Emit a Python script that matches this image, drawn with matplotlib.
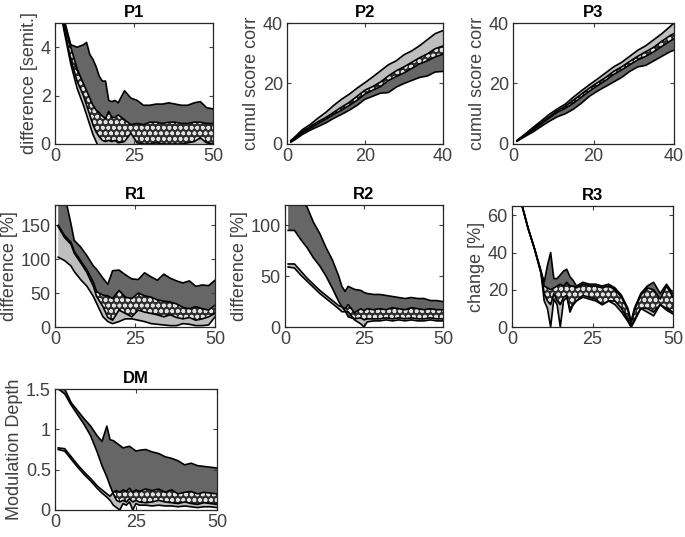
import numpy as np
import matplotlib
matplotlib.use('Agg')
import matplotlib.pyplot as plt

plt.rcParams['font.family'] = ['Liberation Sans', 'DejaVu Sans']
plt.rcParams['hatch.linewidth'] = 1.1

# ---- P1 ----
x_p1 = [1, 3, 5, 7, 9, 10, 11, 12, 13, 14, 15, 16, 17, 18, 19, 20, 22, 24, 26, 28, 30, 32, 34, 36, 38, 40, 42, 44, 46, 48, 50]
p1_dark_hi = [6.0, 5.1, 4.1, 4.0, 4.1, 4.2, 3.7, 3.5, 3.2, 2.8, 2.6, 2.6, 1.8, 1.75, 1.8, 1.7, 2.2, 1.9, 1.8, 1.6, 1.6, 1.65, 1.65, 1.7, 1.65, 1.6, 1.6, 1.7, 1.75, 1.5, 1.45]
p1_light_hi = [6.0, 4.9, 4.0, 3.1, 2.5, 2.2, 1.9, 1.6, 1.4, 1.3, 1.15, 1.05, 1.35, 1.1, 1.1, 1.2, 1.0, 0.8, 0.85, 0.8, 0.9, 0.9, 0.85, 0.9, 0.9, 0.85, 0.85, 0.9, 0.9, 0.85, 0.85]
p1_dark_lo = [6.0, 4.7, 3.5, 2.6, 2.0, 1.6, 1.2, 0.8, 0.5, 0.3, 0.15, 0.1, 0.15, 0.1, 0.15, 0.05, 0.1, 0.45, 0.05, 0.0, 0.0, 0.05, 0.0, 0.0, 0.0, 0.0, 0.05, 0.1, 0.25, 0.05, 0.0]
p1_light_lo = [6.0, 4.6, 3.3, 2.3, 1.6, 1.2, 0.8, 0.4, 0.1, -0.2, -0.3, -0.3, -0.3, -0.3, -0.3, -0.3, -0.3, -0.3, -0.3, -0.3, -0.3, -0.3, -0.3, -0.3, -0.3, -0.3, -0.3, -0.3, -0.3, -0.3, -0.3]

# ---- P2 ----
x_p2 = [1, 2, 4, 6, 8, 10, 12, 14, 16, 18, 20, 22, 24, 26, 28, 30, 32, 34, 36, 38, 40]
p2_light_hi = [1.2, 2.3, 4.8, 6.5, 8.6, 10.5, 12.8, 14.8, 16.5, 18.5, 20.3, 22.2, 24.2, 26.2, 27.5, 29.5, 30.8, 32.5, 34.5, 36.5, 37.5]
p2_dark_hi = [1.0, 2.0, 4.2, 5.8, 7.4, 8.8, 10.5, 12.2, 13.8, 15.8, 17.8, 19.0, 20.5, 22.5, 24.2, 25.5, 27.0, 28.5, 29.8, 31.5, 32.4]
p2_light_lo = [0.8, 1.7, 3.7, 5.2, 6.8, 8.2, 9.8, 11.2, 12.8, 14.5, 16.5, 17.8, 19.0, 21.0, 22.3, 23.5, 25.0, 26.5, 27.5, 28.8, 29.7]
p2_dark_lo = [0.6, 1.4, 3.2, 4.6, 5.8, 7.0, 8.5, 9.8, 11.2, 12.8, 14.8, 15.8, 16.8, 17.0, 18.8, 20.0, 21.0, 22.0, 22.5, 23.8, 24.0]

# ---- P3 ----
x_p3 = [1, 3, 5, 7, 9, 11, 13, 15, 17, 19, 21, 23, 25, 27, 29, 31, 33, 35, 37, 39, 40]
p3_light_hi = [1.2, 3.3, 5.5, 7.6, 9.8, 11.6, 13.2, 15.5, 17.6, 19.6, 21.5, 23.5, 25.5, 27.0, 29.0, 31.0, 32.5, 34.5, 36.5, 38.8, 40.0]
p3_dark_hi = [1.1, 3.0, 5.0, 7.0, 9.0, 11.0, 12.5, 14.5, 16.5, 18.5, 20.3, 22.0, 24.0, 25.5, 27.3, 29.0, 30.5, 32.0, 34.0, 35.8, 36.5]
p3_light_lo = [1.0, 2.8, 4.6, 6.6, 8.6, 10.5, 11.8, 13.5, 15.5, 17.5, 19.3, 21.0, 23.0, 24.5, 26.2, 27.8, 29.0, 30.5, 32.3, 34.0, 34.8]
p3_dark_lo = [0.9, 2.5, 4.0, 5.8, 7.5, 9.0, 10.0, 11.5, 13.5, 15.8, 17.5, 19.0, 20.5, 22.0, 24.0, 25.5, 26.0, 27.5, 29.0, 30.5, 31.0]

# ---- R1 ----
x_r1 = [1, 3, 5, 6, 8, 10, 12, 13, 15, 16.5, 18, 20, 22, 24, 26, 28, 30, 32, 34, 36, 38, 40, 42, 44, 46, 48, 50]
r1_dark_hi = [200, 195, 152, 128, 118, 105, 90, 85, 72, 63, 83, 84, 77, 71, 70, 80, 74, 69, 78, 72, 68, 65, 68, 60, 62, 61, 69]
r1_light_hi = [150, 135, 125, 112, 98, 84, 66, 52, 47, 46, 42, 54, 44, 42, 50, 46, 44, 40, 38, 37, 34, 29, 27, 30, 27, 25, 32]
r1_dark_lo = [148, 132, 122, 109, 95, 80, 60, 45, 30, 14, 10, 25, 20, 15, 25, 22, 20, 18, 15, 18, 14, 12, 14, 10, 12, 15, 20]
r1_light_lo = [103, 98, 90, 82, 70, 60, 45, 35, 15, 8, 5, 8, 12, 12, 10, 8, 5, 4, 3, 2, 2, 5, 4, 2, 2, 3, 15]

# ---- R2 ----
x_r2 = [1, 3, 5, 7, 9, 11, 13, 15, 17, 18, 19, 20, 22, 24, 25, 26, 28, 30, 32, 34, 36, 38, 40, 42, 44, 46, 48, 50]
r2_dark_hi = [135, 130, 126, 118, 103, 92, 78, 66, 50, 40, 35, 40, 37, 36, 34, 33, 32, 32, 31, 30, 29, 28, 29, 28, 28, 26, 26, 25]
r2_dark_lo = [95, 95, 86, 78, 68, 60, 50, 38, 25, 20, 16, 10, 8, 9, 7, 8, 8, 8, 9, 8, 9, 8, 9, 8, 8, 9, 8, 8]
r2_light_hi = [62, 62, 55, 48, 42, 36, 31, 26, 21, 20, 18, 22, 14, 18, 16, 18, 17, 18, 17, 19, 18, 17, 19, 18, 17, 18, 17, 17]
r2_light_lo = [59, 58, 51, 45, 39, 33, 28, 23, 18, 15, 15, 15, 7, 3, 0, 5, 6, 6, 7, 6, 7, 6, 7, 6, 6, 7, 6, 6]

# ---- R3 ----
x_r3 = [1, 3, 5, 7, 9, 10, 11, 12, 13, 14, 15, 16, 17, 18, 19, 20, 22, 24, 26, 28, 30, 32, 34, 36, 37, 38, 40, 42, 44, 46, 48, 50]
r3_dark_hi = [80, 66, 53, 42, 30, 24, 33, 40, 26, 26, 28, 30, 31, 27, 25, 22, 24, 23, 23, 22, 23, 21, 17, 10, 3, 10, 18, 22, 24, 18, 23, 18]
r3_light_hi = [80, 66, 53, 42, 30, 22, 21, 20, 21, 22, 23, 22, 24, 22, 22, 21, 23, 22, 22, 21, 22, 20, 16, 9, 2, 9, 17, 21, 20, 15, 22, 16]
r3_dark_lo = [80, 66, 53, 42, 29, 18, 14, 12, 18, 14, 12, 16, 17, 8, 12, 14, 17, 16, 15, 12, 14, 14, 10, 4, 0, 4, 10, 10, 8, 12, 10, 8]
r3_light_lo = [80, 66, 53, 42, 29, 14, 10, 0, 15, 12, 0, 14, 16, 10, 12, 14, 16, 15, 14, 12, 14, 12, 8, 3, 0, 3, 10, 8, 6, 12, 9, 7]

# ---- DM ----
x_dm = [1, 3, 5, 7, 9, 11, 13, 14.5, 16, 17, 18, 19, 20, 21, 22, 23, 24, 25, 26, 28, 30, 32, 34, 36, 38, 40, 42, 44, 46, 48, 50]
dm_dark_hi = [1.55, 1.50, 1.33, 1.23, 1.13, 1.04, 0.92, 0.85, 1.04, 0.87, 0.86, 0.83, 0.80, 0.77, 0.78, 0.79, 0.76, 0.73, 0.74, 0.75, 0.72, 0.70, 0.66, 0.64, 0.61, 0.56, 0.58, 0.55, 0.54, 0.53, 0.52]
dm_dark_lo = [1.50, 1.44, 1.30, 1.18, 1.06, 0.92, 0.72, 0.55, 0.41, 0.30, 0.20, 0.12, 0.10, 0.12, 0.10, 0.14, 0.10, 0.12, 0.10, 0.09, 0.10, 0.12, 0.10, 0.09, 0.08, 0.10, 0.08, 0.07, 0.09, 0.08, 0.07]
dm_light_hi = [0.77, 0.76, 0.66, 0.56, 0.47, 0.39, 0.30, 0.25, 0.20, 0.17, 0.22, 0.24, 0.22, 0.25, 0.23, 0.27, 0.22, 0.25, 0.23, 0.26, 0.24, 0.26, 0.22, 0.25, 0.20, 0.22, 0.23, 0.20, 0.22, 0.21, 0.20]
dm_light_lo = [0.75, 0.73, 0.63, 0.53, 0.44, 0.36, 0.27, 0.21, 0.16, 0.12, 0.06, 0.03, 0.00, 0.08, 0.06, 0.10, 0.00, 0.08, 0.06, 0.06, 0.05, 0.06, 0.05, 0.05, 0.04, 0.05, 0.04, 0.03, 0.04, 0.04, 0.03]

DARK = '#666666'
LIGHT = '#bebebe'
TXT = '#404040'


def pannello(ax, x, dhi, dlo, lhi, llo, titolo, ylab, xmax, ymax, xt, yt):
    x = np.array(x, dtype=float)
    dhi, dlo = np.array(dhi, float), np.array(dlo, float)
    lhi, llo = np.array(lhi, float), np.array(llo, float)
    ax.fill_between(x, dlo, dhi, facecolor=DARK, lw=0)
    ax.fill_between(x, llo, lhi, facecolor=LIGHT, lw=0)
    # zona di sovrapposizione tratteggiata
    top = np.minimum(dhi, lhi)
    bot = np.maximum(dlo, llo)
    ax.fill_between(x, bot, top, where=top > bot, interpolate=True,
                    facecolor='#2e2e2e', edgecolor='#e0e0e0', hatch='ooo', lw=0)
    for yy in (dhi, dlo, lhi, llo):
        ax.plot(x, yy, color='black', lw=1.2)
    ax.set_xlim(0, xmax)
    ax.set_ylim(0, ymax)
    ax.set_xticks(xt)
    ax.set_yticks(yt)
    ax.set_yticklabels([('%g' % v) for v in yt])
    ax.tick_params(direction='in', top=True, right=True, labelsize=13,
                   colors=TXT, length=3, width=0.8, pad=3)
    for s in ax.spines.values():
        s.set_color('#262626')
        s.set_linewidth(0.9)
    ax.set_title(titolo, fontsize=12, fontweight='bold', color='black', pad=4)
    ax.set_ylabel(ylab, fontsize=13, color=TXT, labelpad=2)


fig = plt.figure(figsize=(6.85, 5.37), dpi=100)
W, H = 685.0, 537.0


def asse(l, t, w, h):
    return fig.add_axes([l / W, 1 - (t + h) / H, w / W, h / H])


ax1 = asse(55, 23, 158, 121)
ax2 = asse(287, 23, 156, 121)
ax3 = asse(513, 23, 161, 121)
ax4 = asse(55, 205, 160, 122)
ax5 = asse(285, 205, 158, 122)
ax6 = asse(512, 206, 161, 121)
ax7 = asse(55, 389, 162, 121)

pannello(ax1, x_p1, p1_dark_hi, p1_dark_lo, p1_light_hi, p1_light_lo, 'P1', 'difference [semit.]', 50, 5, [0, 25, 50], [0, 2, 4])
pannello(ax2, x_p2, p2_dark_hi, p2_dark_lo, p2_light_hi, p2_light_lo, 'P2', 'cumul score corr', 40, 40, [0, 20, 40], [0, 20, 40])
pannello(ax3, x_p3, p3_dark_hi, p3_dark_lo, p3_light_hi, p3_light_lo, 'P3', 'cumul score corr', 40, 40, [0, 20, 40], [0, 20, 40])
pannello(ax4, x_r1, r1_dark_hi, r1_dark_lo, r1_light_hi, r1_light_lo, 'R1', 'difference [%]', 50, 180, [0, 25, 50], [0, 50, 100, 150])
pannello(ax5, x_r2, r2_dark_hi, r2_dark_lo, r2_light_hi, r2_light_lo, 'R2', 'difference [%]', 50, 120, [0, 25, 50], [0, 50, 100])
pannello(ax6, x_r3, r3_dark_hi, r3_dark_lo, r3_light_hi, r3_light_lo, 'R3', 'change [%]', 50, 65, [0, 25, 50], [0, 20, 40, 60])
pannello(ax7, x_dm, dm_dark_hi, dm_dark_lo, dm_light_hi, dm_light_lo, 'DM', 'Modulation Depth', 50, 1.5, [0, 25, 50], [0, 0.5, 1, 1.5])

fig.savefig('out.png', dpi=100)
